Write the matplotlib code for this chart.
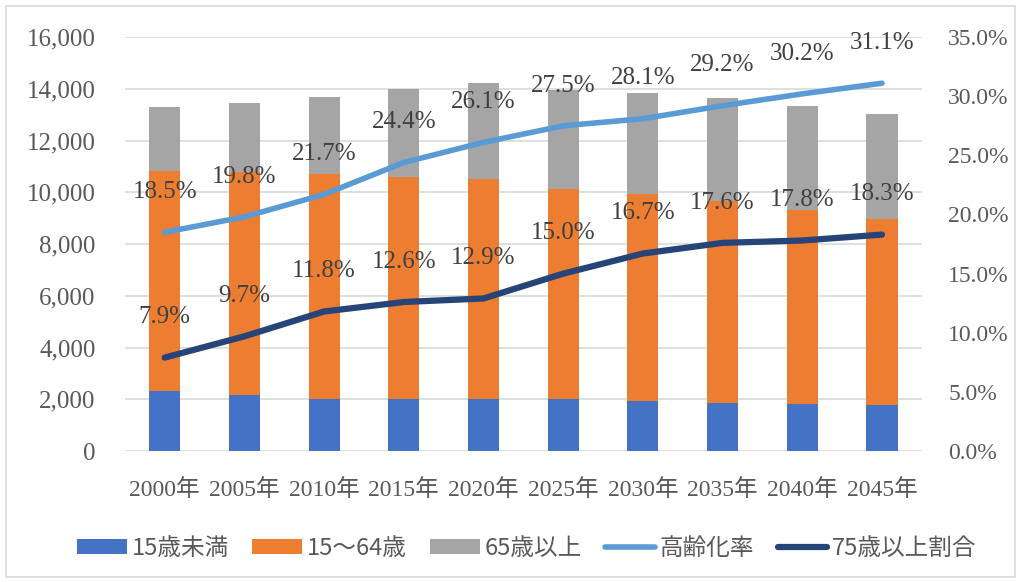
import matplotlib.pyplot as plt
import numpy as np
from matplotlib.patches import Rectangle
from matplotlib.ticker import FuncFormatter

years = ['2000年', '2005年', '2010年', '2015年', '2020年',
         '2025年', '2030年', '2035年', '2040年', '2045年']
under15 = [2320, 2160, 2010, 2010, 2010, 2000, 1930, 1860, 1820, 1780]
age15_64 = [8510, 8630, 8700, 8570, 8500, 8110, 8020, 7800, 7480, 7190]
over65 = [2460, 2660, 2970, 3410, 3710, 3840, 3890, 3980, 4030, 4050]
aging_rate = [18.5, 19.8, 21.7, 24.4, 26.1, 27.5, 28.1, 29.2, 30.2, 31.1]
over75_rate = [7.9, 9.7, 11.8, 12.6, 12.9, 15.0, 16.7, 17.6, 17.8, 18.3]

serif = ['Liberation Serif', 'Noto Sans CJK JP']
jp = ['Noto Sans CJK JP', 'DejaVu Sans']
label_color = '#595959'

fig = plt.figure(figsize=(10.21, 5.82), dpi=100)
fig.patch.set_facecolor('white')
fig.patches.append(Rectangle((0.006, 0.008), 0.988, 0.982, transform=fig.transFigure,
                             fill=False, edgecolor='#D9D9D9', linewidth=1.2))

ax = fig.add_axes([0.1223, 0.225, 0.7806, 0.7113])
ax2 = ax.twinx()

x = np.arange(len(years))
w = 0.39
bottom2 = np.array(under15)
bottom3 = bottom2 + np.array(age15_64)
ax.bar(x, under15, w, color='#4472C4', label='15歳未満', zorder=2)
ax.bar(x, age15_64, w, bottom=bottom2, color='#ED7D31', label='15～64歳', zorder=2)
ax.bar(x, over65, w, bottom=bottom3, color='#A5A5A5', label='65歳以上', zorder=2)

ax.set_xlim(-0.5, len(years) - 0.5)
ax.set_ylim(0, 16000)
ax.set_yticks(range(0, 16001, 2000))
ax.yaxis.set_major_formatter(FuncFormatter(lambda v, p: f'{int(v):,}'))
ax.grid(axis='y', color='#D9D9D9', linewidth=1.2, zorder=0)
ax.set_axisbelow(True)
ax.set_xticks(x)
ax.set_xticklabels(years)
ax.tick_params(axis='both', length=0, colors=label_color, labelsize=17)
ax.tick_params(axis='y', pad=21, labelsize=18)
ax.tick_params(axis='x', pad=20)
for lbl in ax.get_xticklabels() + ax.get_yticklabels():
    lbl.set_family(serif)
for s in ax.spines.values():
    s.set_visible(False)
for s in ax2.spines.values():
    s.set_visible(False)

l1, = ax2.plot(x, aging_rate, color='#5B9BD5', linewidth=4, solid_capstyle='round',
               label='高齢化率', zorder=3)
l2, = ax2.plot(x, over75_rate, color='#264478', linewidth=4.5, solid_capstyle='round',
               label='75歳以上割合', zorder=3)
ax2.set_ylim(0, 35)
ax2.set_yticks(np.arange(0, 35.1, 5))
ax2.yaxis.set_major_formatter(FuncFormatter(lambda v, p: f'{v:.1f}%'))
ax2.tick_params(axis='y', length=0, colors=label_color, labelsize=17, pad=19)
for lbl in ax2.get_yticklabels():
    lbl.set_family(serif)

for series in (aging_rate, over75_rate):
    for xi, v in zip(x, series):
        ax2.annotate(f'{v:.1f}%', (xi, v), xytext=(0, 29), textcoords='offset points',
                     ha='center', va='center', fontsize=18, color='#404040',
                     family=serif, zorder=4)

handles = ax.get_legend_handles_labels()[0] + [l1, l2]
labels = ['15歳未満', '15～64歳', '65歳以上', '高齢化率', '75歳以上割合']
leg = fig.legend(handles, labels, loc='center', bbox_to_anchor=(0.516, 0.058), ncol=5,
                 frameon=False, prop={'family': jp, 'size': 17}, handlelength=2.1,
                 handleheight=0.6, handletextpad=0.2, columnspacing=1.0)
for t in leg.get_texts():
    t.set_color(label_color)

fig.savefig('out.png', dpi=100)
